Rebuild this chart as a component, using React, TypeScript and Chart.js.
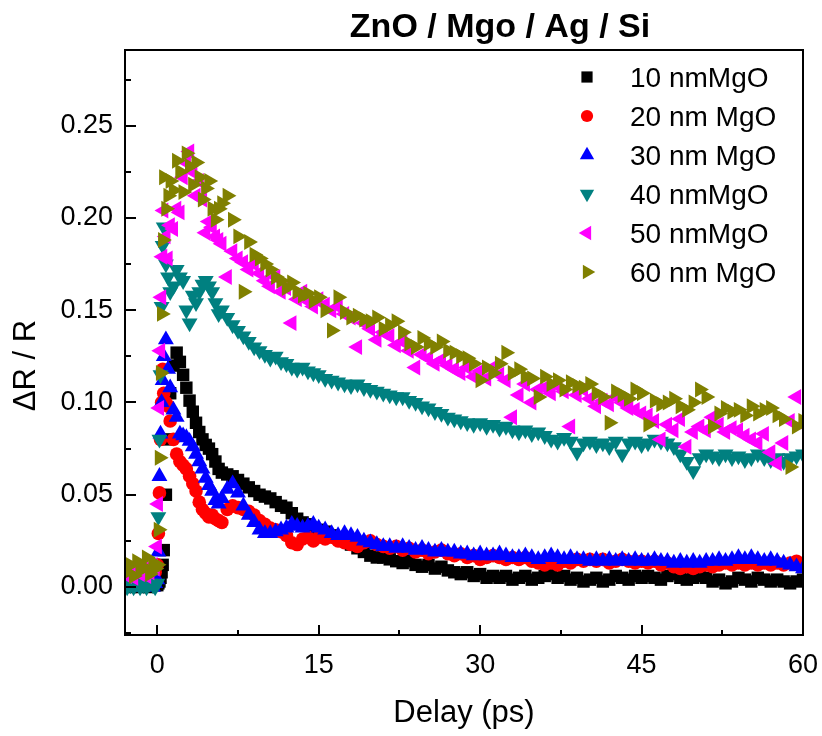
import React, { useEffect, useRef } from "react";
import { Chart, registerables } from "chart.js";
import { drawPoint } from "chart.js/helpers";

Chart.register(...registerables);

const FONT = "'Liberation Sans', Arial, Helvetica, sans-serif";

const delays = [
  -2.8, -2.5, -2.2, -1.9, -1.6, -1.3, -1.0, -0.7, -0.4, -0.2,
  0.0, 0.1, 0.2, 0.3, 0.4, 0.5, 0.6, 0.8, 1.0, 1.2,
  1.5, 1.8, 2.1, 2.4, 2.7, 3.0, 3.3, 3.6, 3.9, 4.2, 4.5, 4.8, 5.1, 5.4, 5.7, 6.0,
  6.5, 7.0, 7.5, 8.0, 8.5, 9.0, 9.5, 10.0, 10.5, 11.0, 11.5, 12.0, 12.5, 13.0, 13.5, 14.0, 14.5, 15.0,
  15.6, 16.2, 16.8, 17.4, 18.0, 18.6, 19.2, 19.8, 20.4, 21.0,
  21.6, 22.2, 22.8, 23.4, 24.0, 24.6, 25.2, 25.8, 26.4, 27.0,
  27.6, 28.2, 28.8, 29.4, 30.0, 30.6, 31.2, 31.8, 32.4, 33.0,
  33.6, 34.2, 34.8, 35.4, 36.0, 36.6, 37.2, 37.8, 38.4, 39.0,
  39.6, 40.2, 40.8, 41.4, 42.0, 42.6, 43.2, 43.8, 44.4, 45.0,
  45.6, 46.2, 46.8, 47.4, 48.0, 48.6, 49.2, 49.8, 50.4, 51.0,
  51.6, 52.2, 52.8, 53.4, 54.0, 54.6, 55.2, 55.8, 56.4, 57.0,
  57.6, 58.2, 58.8, 59.4, 60.0,
];

const mgo10 = [
  0.002, 0.000, 0.003, 0.001, 0.000, 0.002, 0.001, 0.000, 0.002, 0.001,
  0.001, 0.002, 0.003, 0.005, 0.008, 0.012, 0.020, 0.050, 0.080, 0.105,
  0.120, 0.127, 0.122, 0.115, 0.108, 0.101, 0.095, 0.089, 0.084, 0.080, 0.077, 0.075, 0.072, 0.068, 0.064, 0.062,
  0.061, 0.060, 0.058, 0.056, 0.054, 0.052, 0.050, 0.049, 0.048, 0.046, 0.044, 0.043, 0.040, 0.037, 0.035, 0.034, 0.032, 0.031,
  0.030, 0.028, 0.027, 0.025, 0.023, 0.021, 0.019, 0.017, 0.016, 0.016,
  0.015, 0.014, 0.013, 0.014, 0.012, 0.011, 0.012, 0.010, 0.011, 0.009,
  0.008, 0.007, 0.008, 0.006, 0.007, 0.005, 0.006, 0.005, 0.006, 0.004,
  0.005, 0.006, 0.004, 0.005, 0.006, 0.007, 0.005, 0.006, 0.004, 0.005,
  0.003, 0.004, 0.005, 0.003, 0.004, 0.006, 0.005, 0.004, 0.006, 0.005,
  0.006, 0.005, 0.004, 0.006, 0.007, 0.005, 0.004, 0.005, 0.006, 0.005,
  0.003, 0.004, 0.002, 0.003, 0.005, 0.004, 0.003, 0.005, 0.004, 0.003,
  0.004, 0.003, 0.002, 0.003, 0.004,
];

const mgo20 = [
  0.004, 0.002, 0.005, 0.003, 0.006, 0.004, 0.005, 0.003, 0.006, 0.008,
  0.012, 0.029, 0.051, 0.080, 0.100, 0.118, 0.105, 0.100, 0.098, 0.090,
  0.080, 0.072, 0.068, 0.066, 0.064, 0.060, 0.056, 0.052, 0.046, 0.042, 0.040, 0.038, 0.039, 0.037, 0.036, 0.035,
  0.042, 0.044, 0.043, 0.042, 0.041, 0.039, 0.036, 0.034, 0.032, 0.031, 0.030, 0.028, 0.024, 0.023, 0.026, 0.027, 0.025, 0.027,
  0.026, 0.027, 0.025, 0.024, 0.023, 0.022, 0.024, 0.025, 0.023, 0.022,
  0.021, 0.022, 0.020, 0.021, 0.019, 0.020, 0.018, 0.019, 0.020, 0.018,
  0.017, 0.018, 0.016, 0.017, 0.015, 0.016, 0.017, 0.016, 0.015, 0.016,
  0.015, 0.016, 0.014, 0.013, 0.012, 0.013, 0.012, 0.014, 0.013, 0.015,
  0.014, 0.015, 0.014, 0.015, 0.013, 0.014, 0.015, 0.014, 0.013, 0.014,
  0.013, 0.014, 0.012, 0.013, 0.011, 0.010, 0.011, 0.010, 0.011, 0.012,
  0.011, 0.012, 0.013, 0.012, 0.013, 0.012, 0.013, 0.012, 0.013, 0.012,
  0.013, 0.012, 0.013, 0.014, 0.012,
];

const mgo30 = [
  0.001, 0.000, 0.002, 0.000, 0.001, 0.000, 0.002, 0.001, 0.000, 0.002,
  0.004, 0.019, 0.060, 0.083, 0.100, 0.112, 0.125, 0.134, 0.118, 0.108,
  0.096, 0.092, 0.083, 0.082, 0.081, 0.079, 0.076, 0.072, 0.068, 0.064, 0.059, 0.055, 0.052, 0.047, 0.045, 0.048,
  0.053, 0.056, 0.051, 0.044, 0.039, 0.035, 0.031, 0.029, 0.029, 0.030, 0.031, 0.032, 0.034, 0.033, 0.032, 0.033, 0.034, 0.032,
  0.031, 0.029, 0.028, 0.029, 0.028, 0.027, 0.025, 0.024, 0.023, 0.022,
  0.022, 0.021, 0.022, 0.021, 0.020, 0.021, 0.020, 0.019, 0.020, 0.019,
  0.019, 0.018, 0.018, 0.017, 0.018, 0.017, 0.017, 0.018, 0.017, 0.016,
  0.016, 0.017, 0.016, 0.015, 0.016, 0.017, 0.016, 0.015, 0.016, 0.015,
  0.015, 0.014, 0.015, 0.014, 0.015, 0.014, 0.015, 0.014, 0.015, 0.014,
  0.014, 0.015, 0.014, 0.014, 0.013, 0.014, 0.013, 0.014, 0.013, 0.014,
  0.014, 0.015, 0.014, 0.015, 0.016, 0.015, 0.016, 0.015, 0.014, 0.015,
  0.014, 0.013, 0.012, 0.011, 0.010,
];

const mgo40 = [
  0.000, 0.001, 0.000, 0.002, 0.000, 0.001, 0.000, 0.002, 0.001, 0.000,
  0.002, 0.038, 0.080, 0.115, 0.152, 0.185, 0.195, 0.175, 0.168, 0.160,
  0.163, 0.172, 0.168, 0.166, 0.150, 0.143, 0.158, 0.154, 0.160, 0.164, 0.166, 0.163, 0.160, 0.154, 0.148, 0.150,
  0.146, 0.142, 0.139, 0.136, 0.133, 0.130, 0.128, 0.126, 0.124, 0.125, 0.122, 0.121, 0.119, 0.118, 0.119, 0.117, 0.116, 0.115,
  0.113, 0.112, 0.111, 0.110, 0.109, 0.110, 0.108, 0.107, 0.106, 0.105,
  0.104, 0.103, 0.103, 0.101, 0.100, 0.098, 0.097, 0.095, 0.094, 0.092,
  0.091, 0.090, 0.089, 0.088, 0.089, 0.087, 0.088, 0.086, 0.087, 0.085,
  0.084, 0.085, 0.083, 0.084, 0.082, 0.080, 0.079, 0.081, 0.079, 0.073,
  0.078, 0.079, 0.077, 0.078, 0.076, 0.079, 0.072, 0.078, 0.079, 0.077,
  0.078, 0.080, 0.079, 0.078, 0.076, 0.072, 0.068, 0.063, 0.070, 0.072,
  0.071, 0.070, 0.072, 0.070, 0.071, 0.069, 0.070, 0.072, 0.070, 0.069,
  0.070, 0.068, 0.070, 0.071, 0.072,
];

const mgo50 = [
  0.006, 0.008, 0.005, 0.009, 0.007, 0.010, 0.006, 0.008, 0.012, 0.010,
  0.022, 0.045, 0.097, 0.128, 0.157, 0.179, 0.204, 0.190, 0.178, 0.196,
  0.194, 0.205, 0.203, 0.222, 0.230, 0.236, 0.225, 0.212, 0.220, 0.210, 0.192, 0.198, 0.195, 0.190, 0.188, 0.186,
  0.168, 0.182, 0.178, 0.176, 0.172, 0.175, 0.170, 0.166, 0.163, 0.168, 0.160, 0.162, 0.143, 0.156, 0.160, 0.155, 0.152, 0.156,
  0.153, 0.150, 0.152, 0.148, 0.146, 0.130, 0.143, 0.140, 0.134, 0.138,
  0.136, 0.131, 0.133, 0.128, 0.119, 0.126, 0.124, 0.121, 0.123, 0.120,
  0.118, 0.116, 0.119, 0.114, 0.117, 0.113, 0.119, 0.115, 0.112, 0.092,
  0.104, 0.110, 0.100, 0.107, 0.108, 0.105, 0.109, 0.106, 0.087, 0.104,
  0.107, 0.102, 0.098, 0.101, 0.099, 0.103, 0.100, 0.097, 0.096, 0.094,
  0.093, 0.090, 0.080, 0.088, 0.085, 0.091, 0.076, 0.084, 0.087, 0.085,
  0.092, 0.088, 0.084, 0.086, 0.085, 0.082, 0.080, 0.078, 0.083, 0.073,
  0.067, 0.078, 0.090, 0.103, 0.088,
];

const mgo60 = [
  0.008, 0.012, 0.006, 0.014, 0.009, 0.011, 0.016, 0.007, 0.013, 0.010,
  0.012, 0.031, 0.070, 0.116, 0.148, 0.188, 0.222, 0.205, 0.212, 0.220,
  0.215, 0.231, 0.225, 0.214, 0.235, 0.228, 0.218, 0.230, 0.222, 0.210, 0.216, 0.220, 0.205, 0.199, 0.205, 0.208,
  0.212, 0.199, 0.190, 0.160, 0.187, 0.180, 0.178, 0.175, 0.172, 0.168, 0.166, 0.162, 0.165, 0.160, 0.158, 0.159, 0.155, 0.157,
  0.150, 0.139, 0.157, 0.149, 0.146, 0.147, 0.145, 0.144, 0.146, 0.140,
  0.142, 0.144, 0.138, 0.132, 0.130, 0.135, 0.132, 0.130, 0.133, 0.128,
  0.127, 0.125, 0.124, 0.121, 0.112, 0.119, 0.116, 0.121, 0.127, 0.116,
  0.118, 0.114, 0.113, 0.103, 0.114, 0.110, 0.112, 0.107, 0.111, 0.109,
  0.108, 0.110, 0.105, 0.103, 0.089, 0.106, 0.104, 0.102, 0.107, 0.105,
  0.088, 0.101, 0.099, 0.100, 0.102, 0.098, 0.096, 0.100, 0.107, 0.103,
  0.087, 0.094, 0.097, 0.095, 0.096, 0.093, 0.098, 0.094, 0.096, 0.097,
  0.093, 0.091, 0.065, 0.087, 0.090,
];

const seriesLabels = ["10 nmMgO", "20 nm MgO", "30 nm MgO", "40 nmMgO", "50 nmMgO", "60 nm MgO"];
const seriesValues = [mgo10, mgo20, mgo30, mgo40, mgo50, mgo60];
const seriesColors = ["#000000", "#FF0000", "#0000FF", "#008080", "#FF00FF", "#808000"];
const seriesShapes = ["rect", "circle", "triangle", "triangle", "triangle", "triangle"];
const seriesRotations = [0, 0, 0, 180, 270, 90];
const seriesRadii = [8.8, 6.8, 9.2, 9.2, 9.2, 9.2];

const xTicks = [0, 15, 30, 45, 60];
const xMinorTicks = [7.5, 22.5, 37.5, 52.5];
const yTicks = [0, 0.05, 0.1, 0.15, 0.2, 0.25];
const yMinorTicks = [-0.025, 0.025, 0.075, 0.125, 0.175, 0.225, 0.275];

const chartTitle = "ZnO / Mgo / Ag / Si";
const xTitle = "Delay (ps)";
const yTitle = "\u0394R / R";

const decorPlugin = {
  id: "decor",
  afterDatasetsDraw(chart: any) {
    const { ctx, chartArea: a, scales } = chart;
    const x = scales.x;
    const y = scales.y;
    ctx.save();
    ctx.strokeStyle = "#000";
    ctx.lineWidth = 2;
    ctx.beginPath();
    ctx.rect(a.left, a.top, a.right - a.left, a.bottom - a.top);
    for (const v of yTicks) {
      const py = Math.round(y.getPixelForValue(v));
      ctx.moveTo(a.left, py);
      ctx.lineTo(a.left + 11, py);
    }
    for (const v of yMinorTicks) {
      const py = Math.round(y.getPixelForValue(v));
      ctx.moveTo(a.left, py);
      ctx.lineTo(a.left + 6, py);
    }
    for (const v of xTicks) {
      const px = Math.round(x.getPixelForValue(v));
      ctx.moveTo(px, a.bottom);
      ctx.lineTo(px, a.bottom - 10);
    }
    for (const v of xMinorTicks) {
      const px = Math.round(x.getPixelForValue(v));
      ctx.moveTo(px, a.bottom);
      ctx.lineTo(px, a.bottom - 5);
    }
    ctx.stroke();
    ctx.restore();
  },
  afterDraw(chart: any) {
    const { ctx, chartArea: a } = chart;
    ctx.save();
    ctx.fillStyle = "#000";
    ctx.font = `bold 34px ${FONT}`;
    ctx.textAlign = "center";
    ctx.textBaseline = "alphabetic";
    ctx.fillText(chartTitle, (a.left + a.right) / 2 + 36, a.top - 13);
    ctx.save();
    ctx.translate(35, (a.top + a.bottom) / 2 + 23);
    ctx.rotate(-Math.PI / 2);
    ctx.font = `31px ${FONT}`;
    ctx.fillText(yTitle, 0, 0);
    ctx.restore();
    ctx.font = `28px ${FONT}`;
    ctx.textAlign = "left";
    seriesLabels.forEach((label, i) => {
      const rowY = a.top + 27 + i * 39;
      const mx = a.right - 216;
      ctx.fillStyle = seriesColors[i];
      drawPoint(ctx, { pointStyle: seriesShapes[i], rotation: seriesRotations[i], radius: seriesRadii[i] * 0.9, borderWidth: 0 } as any, mx, rowY);
      ctx.fillStyle = "#000";
      ctx.fillText(label, a.right - 173, rowY + 10);
    });
    ctx.restore();
  },
};

export default function App() {
  const ref = useRef<HTMLCanvasElement | null>(null);
  useEffect(() => {
    document.body.style.margin = "0";
    const canvas = ref.current;
    if (!canvas) return;
    const datasets = seriesValues.map((vals, i) => ({
      label: seriesLabels[i],
      data: delays.map((t, j) => ({ x: t, y: vals[j] })),
      showLine: false,
      pointStyle: seriesShapes[i] as any,
      pointRotation: seriesRotations[i],
      pointRadius: seriesRadii[i],
      pointHoverRadius: seriesRadii[i],
      pointBackgroundColor: seriesColors[i],
      pointBorderColor: seriesColors[i],
      pointBorderWidth: 0,
      order: seriesValues.length - i,
      clip: 0,
    }));
    const tickFont = { family: FONT, size: 27 };
    const chart = new Chart(canvas, {
      type: "scatter",
      data: { datasets },
      options: {
        animation: false,
        responsive: false,
        devicePixelRatio: 1,
        events: [],
        layout: { padding: { top: 50, right: 19, left: 0, bottom: 0 } },
        plugins: { legend: { display: false }, tooltip: { enabled: false }, title: { display: false } },
        scales: {
          x: {
            type: "linear",
            min: -3,
            max: 60,
            afterBuildTicks: (s: any) => {
              s.ticks = xTicks.map((v) => ({ value: v }));
            },
            afterFit: (s: any) => {
              s.height = 101;
              s.paddingLeft = 0;
              s.paddingRight = 0;
            },
            grid: { display: false, drawTicks: false },
            border: { display: false },
            ticks: { font: tickFont, color: "#000", padding: 14, maxRotation: 0, autoSkip: false, callback: (v: any) => String(v) },
            title: { display: true, text: xTitle, color: "#000", font: { family: FONT, size: 31 }, padding: { top: 0, bottom: 4 } },
          },
          y: {
            type: "linear",
            min: -0.026,
            max: 0.291,
            afterBuildTicks: (s: any) => {
              s.ticks = yTicks.map((v) => ({ value: v }));
            },
            afterFit: (s: any) => {
              s.width = 125;
              s.paddingTop = 0;
              s.paddingBottom = 0;
            },
            grid: { display: false, drawTicks: false },
            border: { display: false },
            ticks: { font: tickFont, color: "#000", padding: 12, autoSkip: false, callback: (v: any) => Number(v).toFixed(2) },
          },
        },
      },
      plugins: [decorPlugin],
    });
    return () => chart.destroy();
  }, []);
  return (
    <div style={{ width: 822, height: 736 }}>
      <canvas ref={ref} width={822} height={736} style={{ display: "block", width: 822, height: 736 }} />
    </div>
  );
}
